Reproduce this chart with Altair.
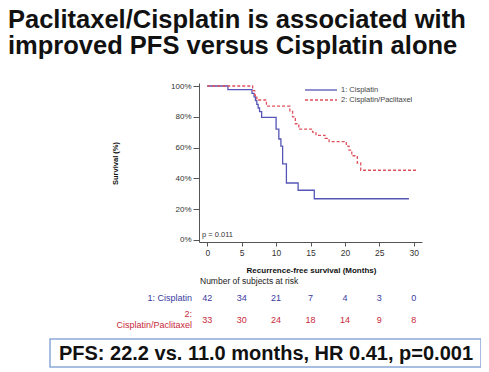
import altair as alt
import pandas as pd

# ---- data ----
groups = ["1: Cisplatin", "2: Cisplatin/Paclitaxel"]

blue_t = [0, 3.0, 6.5, 6.8, 7.0, 7.2, 7.4, 7.6, 7.9, 10.0, 10.4, 10.7, 10.95, 11.5, 13.2, 15.55, 29.3]
blue_s = [100, 97.6, 95.2, 92.9, 90.5, 88.1, 85.7, 83.3, 79.6, 72.0, 65.6, 61.0, 49.4, 37.0, 32.3, 26.8, 26.8]

red_t = [0, 6.6, 6.9, 7.2, 8.6, 12.0, 12.4, 12.8, 13.3, 15.3, 15.8, 17.1, 17.7, 20.2, 20.6, 21.0, 21.8, 22.3, 30.6]
red_s = [100, 97.0, 94.0, 90.9, 86.9, 83.5, 80.0, 75.5, 72.0, 70.0, 68.0, 66.0, 63.9, 61.0, 58.4, 54.7, 50.0, 45.3, 45.3]

risk_t = [0, 5, 10, 15, 20, 25, 30]
risk_blue = [42, 34, 21, 7, 4, 3, 0]
risk_red = [33, 30, 24, 18, 14, 9, 8]

x_ticks = [0, 5, 10, 15, 20, 25, 30]
y_ticks = [0, 20, 40, 60, 80, 100]

title_lines = ["Paclitaxel/Cisplatin is associated with", "improved PFS versus Cisplatin alone"]

BLUE = "#5555b8"
RED = "#e0505c"
BLUE_TXT = "#3a3aa0"
RED_TXT = "#c8283a"
FONT = "Liberation Sans"

km = pd.DataFrame(
    [{"group": groups[0], "t": t, "s": s} for t, s in zip(blue_t, blue_s)]
    + [{"group": groups[1], "t": t, "s": s} for t, s in zip(red_t, red_s)]
)
risk = pd.DataFrame({"t": risk_t, "b": risk_blue, "r": risk_red})

one = alt.Data(values=[{"k": 1}])

xscale = alt.Scale(domain=[-1.2, 31.2], nice=False, zero=False)
yscale = alt.Scale(domain=[-1.3, 101.95], nice=False, zero=False)

xaxis = alt.Axis(
    values=x_ticks, title="Recurrence-free survival (Months)", grid=False,
    domainColor="#555", tickColor="#555", tickSize=4, labelFontSize=8.5,
    labelColor="#333", labelPadding=2, labelFont=FONT,
    titleX=112, titleY=28, titleBaseline="middle", titleAlign="center",
    titleFontSize=8, titleFontWeight="bold", titleFont=FONT, titleColor="#111")

lines = alt.Chart(km).mark_line(interpolate="step-after", strokeWidth=1.3).encode(
    x=alt.X("t:Q", scale=xscale, axis=xaxis),
    y=alt.Y("s:Q", scale=yscale, axis=alt.Axis(
        values=y_ticks, labelExpr="datum.value + '%'", title="Survival (%)", grid=False,
        domainColor="#555", tickColor="#555", tickSize=6, labelFontSize=8,
        labelColor="#333", labelPadding=2, labelFont=FONT,
        titleX=-84, titleY=80, titleAngle=270, titleBaseline="middle", titleAlign="center",
        titleFontSize=7.5, titleFontWeight="bold", titleFont=FONT, titleColor="#111")),
    color=alt.Color("group:N", scale=alt.Scale(domain=groups, range=[BLUE, RED]), legend=None),
    strokeDash=alt.StrokeDash("group:N", scale=alt.Scale(domain=groups, range=[[1, 0], [3, 2]]), legend=None),
)

leg1 = alt.Chart(one).mark_rule(color=BLUE, strokeWidth=1.3).encode(
    x=alt.value(106), x2=alt.value(138), y=alt.value(7))
leg2 = alt.Chart(one).mark_rule(color=RED, strokeWidth=1.3, strokeDash=[3, 2]).encode(
    x=alt.value(106), x2=alt.value(138), y=alt.value(17))
legt1 = alt.Chart(one).mark_text(align="left", baseline="middle", fontSize=7.5, font=FONT, color="#444").encode(
    x=alt.value(142), y=alt.value(7), text=alt.value(groups[0]))
legt2 = alt.Chart(one).mark_text(align="left", baseline="middle", fontSize=7.5, font=FONT, color="#444").encode(
    x=alt.value(142), y=alt.value(17), text=alt.value(groups[1]))

pval = alt.Chart(one).mark_text(align="left", baseline="middle", fontSize=7.5, font=FONT, color="#333").encode(
    x=alt.value(3), y=alt.value(152), text=alt.value("p = 0.011"))

nrisk = alt.Chart(one).mark_text(align="left", baseline="middle", fontSize=8.5, font=FONT, color="#222").encode(
    x=alt.value(1), y=alt.value(198), text=alt.value("Number of subjects at risk"))

rb = alt.Chart(risk).mark_text(baseline="middle", fontSize=9, font=FONT, color=BLUE_TXT).encode(
    x=alt.X("t:Q", scale=xscale, axis=xaxis), y=alt.value(215), text="b:Q")
rr = alt.Chart(risk).mark_text(baseline="middle", fontSize=9, font=FONT, color=RED_TXT).encode(
    x=alt.X("t:Q", scale=xscale, axis=xaxis), y=alt.value(237), text="r:Q")

lb = alt.Chart(one).mark_text(align="right", baseline="middle", fontSize=9, font=FONT, color=BLUE_TXT).encode(
    x=alt.value(-7), y=alt.value(215), text=alt.value("1: Cisplatin"))
lr1 = alt.Chart(one).mark_text(align="right", baseline="middle", fontSize=9, font=FONT, color=RED_TXT).encode(
    x=alt.value(-7), y=alt.value(231), text=alt.value("2:"))
lr2 = alt.Chart(one).mark_text(align="right", baseline="middle", fontSize=9, font=FONT, color=RED_TXT).encode(
    x=alt.value(-7), y=alt.value(242), text=alt.value("Cisplatin/Paclitaxel"))

title = alt.Chart(one).mark_text(align="left", baseline="alphabetic", fontSize=25.5, fontWeight="bold",
                                 font=FONT, color="#111", lineHeight=25.5).encode(
    x=alt.value(-191), y=alt.value(-55), text=alt.value(title_lines))

box = alt.Chart(one).mark_rect(fill="white", stroke="#8aa8d8", strokeWidth=1.5).encode(
    x=alt.value(-149), x2=alt.value(282), y=alt.value(256), y2=alt.value(284))
boxt = alt.Chart(one).mark_text(align="center", baseline="middle", fontSize=20, fontWeight="bold", font=FONT, color="#111").encode(
    x=alt.value(67), y=alt.value(270.5), text=alt.value("PFS: 22.2 vs. 11.0 months, HR 0.41, p=0.001"))

chart = alt.layer(
    lines, leg1, leg2, legt1, legt2, pval, nrisk, rb, rr, lb, lr1, lr2, title, box, boxt
).properties(
    width=223, height=159,
    autosize=alt.AutoSizeParams(type="none"),
    padding={"left": 191, "top": 75, "right": 59, "bottom": 126},
    background="white",
).configure_view(stroke=None)

chart.save("out.html", embed_options={"renderer": "svg", "actions": False})
